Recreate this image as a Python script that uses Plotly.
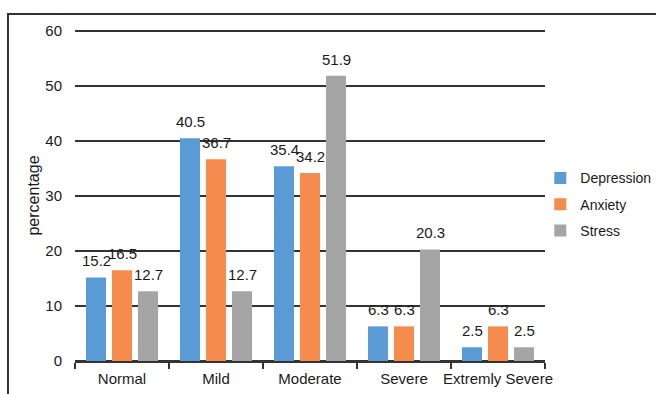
import plotly.graph_objects as go

categories = ["Normal", "Mild", "Moderate", "Severe", "Extremly Severe"]
depression = [15.2, 40.5, 35.4, 6.3, 2.5]
anxiety = [16.5, 36.7, 34.2, 6.3, 6.3]
stress = [12.7, 12.7, 51.9, 20.3, 2.5]
series_names = ["Depression", "Anxiety", "Stress"]
series_values = [depression, anxiety, stress]
colors = ["#5B9BD5", "#F58B4C", "#A5A5A5"]
y_ticks = [0, 10, 20, 30, 40, 50, 60]

FONT = "Liberation Sans, Arial, sans-serif"
DARK = "#1a1a1a"

fig = go.Figure()
for name, vals, col in zip(series_names, series_values, colors):
    fig.add_trace(go.Bar(
        x=categories, y=vals, name=name, marker_color=col,
        marker_line_width=0, legendgroup=name,
    ))

# value labels above bars
slot = 26
for i, vals in enumerate(series_values):
    for c, v in zip(categories, vals):
        fig.add_annotation(
            x=c, y=v, text=f"{v:.1f}", showarrow=False,
            xshift=(i - 1) * slot, yshift=6, yanchor="bottom",
            font=dict(family=FONT, size=15, color=DARK),
        )

fig.update_layout(
    width=656, height=394,
    margin=dict(l=75, r=111, t=30, b=33, autoexpand=False),
    paper_bgcolor="white", plot_bgcolor="white",
    barmode="group", bargap=0.17, bargroupgap=0.23,
    font=dict(family=FONT, size=15, color=DARK),
    showlegend=True,
    legend=dict(
        x=0.99, y=0.6, xanchor="left", yanchor="top",
        font=dict(family=FONT, size=14, color=DARK),
        tracegroupgap=5, bgcolor="rgba(0,0,0,0)",
    ),
    xaxis=dict(
        showline=True, linecolor="#333333", linewidth=2,
        ticks="outside", tickson="boundaries", ticklen=6,
        tickcolor="#333333", tickwidth=2, tickangle=0, automargin=False,
        ticklabelstandoff=3,
        tickfont=dict(family=FONT, size=15, color=DARK),
        showgrid=False, fixedrange=True,
    ),
    yaxis=dict(
        range=[0, 60.2], tickvals=y_ticks, automargin=False,
        showgrid=True, gridcolor="#333333", gridwidth=2,
        zeroline=True, zerolinecolor="#333333", zerolinewidth=2,
        showline=False, ticks="", ticklabelstandoff=12,
        tickfont=dict(family=FONT, size=15, color=DARK),
        title=dict(text="percentage", font=dict(family=FONT, size=16, color=DARK), standoff=1),
    ),
    shapes=[dict(
        type="rect", xref="paper", yref="paper",
        x0=-0.1426, y0=-0.3, x1=1.4, y1=1.0483,
        line=dict(color="#333333", width=2), fillcolor="rgba(0,0,0,0)",
        layer="below",
    )],
)

fig.write_html("out.html")
